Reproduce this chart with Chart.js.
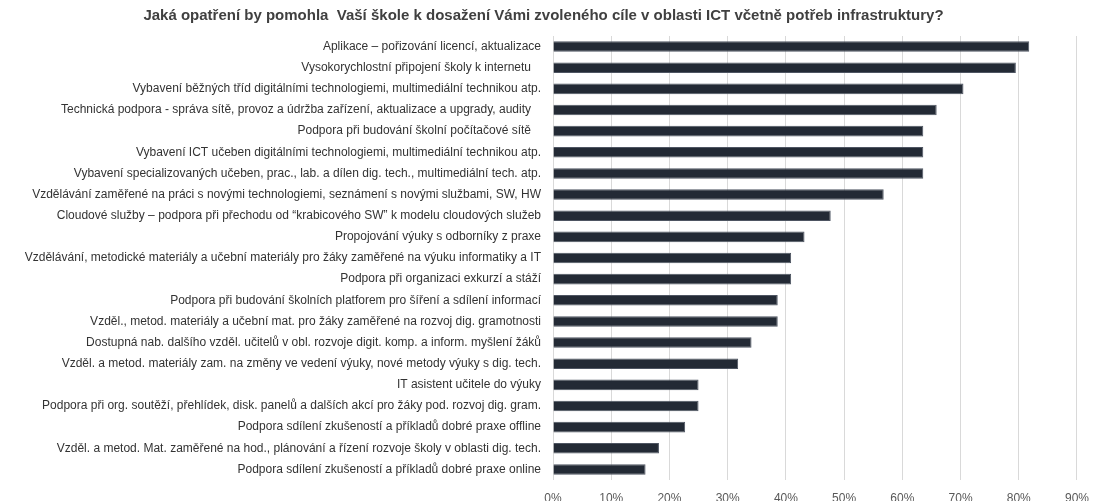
<!DOCTYPE html>
<html>
<head>
<meta charset="utf-8">
<script src="https://cdn.jsdelivr.net/npm/chart.js@4"></script>
<style>
  html, body { margin: 0; padding: 0; background: #fff; }
  #wrap { width: 1100px; height: 501px; }
</style>
</head>
<body>
<div id="wrap"><canvas id="ictChart" width="1100" height="501"></canvas></div>
<script>
// Survey answers, share of schools (n = 44)
const chartTitle = "Jaká opatření by pomohla  Vaší škole k dosažení Vámi zvoleného cíle v oblasti ICT včetně potřeb infrastruktury?";

const measures = [
  "Aplikace – pořizování licencí, aktualizace",
  "Vysokorychlostní připojení školy k internetu   ",
  "Vybavení běžných tříd digitálními technologiemi, multimediální technikou atp.",
  "Technická podpora - správa sítě, provoz a údržba zařízení, aktualizace a upgrady, audity   ",
  "Podpora při budování školní počítačové sítě   ",
  "Vybavení ICT učeben digitálními technologiemi, multimediální technikou atp.",
  "Vybavení specializovaných učeben, prac., lab. a dílen dig. tech., multimediální tech. atp.",
  "Vzdělávání zaměřené na práci s novými technologiemi, seznámení s novými službami, SW, HW",
  "Cloudové služby – podpora při přechodu od “krabicového SW” k modelu cloudových služeb",
  "Propojování výuky s odborníky z praxe",
  "Vzdělávání, metodické materiály a učební materiály pro žáky zaměřené na výuku informatiky a IT",
  "Podpora při organizaci exkurzí a stáží",
  "Podpora při budování školních platforem pro šíření a sdílení informací",
  "Vzděl., metod. materiály a učební mat. pro žáky zaměřené na rozvoj dig. gramotnosti",
  "Dostupná nab. dalšího vzděl. učitelů v obl. rozvoje digit. komp. a inform. myšlení žáků",
  "Vzděl. a metod. materiály zam. na změny ve vedení výuky, nové metody výuky s dig. tech.",
  "IT asistent učitele do výuky",
  "Podpora při org. soutěží, přehlídek, disk. panelů a dalších akcí pro žáky pod. rozvoj dig. gram.",
  "Podpora sdílení zkušeností a příkladů dobré praxe offline",
  "Vzděl. a metod. Mat. zaměřené na hod., plánování a řízení rozvoje školy v oblasti dig. tech.",
  "Podpora sdílení zkušeností a příkladů dobré praxe online"
];

const shares = [
  0.818, 0.795, 0.705, 0.659, 0.636, 0.636, 0.636, 0.568, 0.477, 0.432, 0.409,
  0.409, 0.386, 0.386, 0.341, 0.318, 0.250, 0.250, 0.227, 0.182, 0.159
];

const axisTicks = [0, 0.1, 0.2, 0.3, 0.4, 0.5, 0.6, 0.7, 0.8, 0.9];

const labelFont = "'Liberation Sans', Arial, sans-serif";

const ctx = document.getElementById("ictChart").getContext("2d");

new Chart(ctx, {
  type: "bar",
  data: {
    labels: measures,
    datasets: [{
      data: shares,
      backgroundColor: "#232a35",
      borderColor: "#4e5562",
      borderWidth: 1,
      barPercentage: 0.5,
      categoryPercentage: 1
    }]
  },
  options: {
    indexAxis: "y",
    responsive: false,
    animation: false,
    layout: { padding: { left: 0, right: 13, top: 0, bottom: 0 } },
    plugins: {
      legend: { display: false },
      tooltip: { enabled: false },
      title: {
        display: true,
        text: chartTitle,
        color: "#404040",
        font: { family: labelFont, size: 15, weight: "bold" },
        padding: { top: 6.5, bottom: 11.5 }
      }
    },
    scales: {
      x: {
        min: 0,
        max: 0.9,
        afterBuildTicks: function (scale) {
          scale.ticks = axisTicks.map(v => ({ value: v }));
        },
        afterFit: function (scale) { scale.height = 21; },
        grid: { color: "#d9d9d9", lineWidth: 1, drawTicks: false },
        border: { display: false },
        ticks: {
          padding: 11,
          color: "#595959",
          font: { family: labelFont, size: 12 },
          callback: v => Math.round(v * 100) + "%"
        }
      },
      y: {
        afterFit: function (scale) {
          // fixed label column, labels end 12px left of the bars
          scale.width = 553;
          scale.paddingTop = 0;
          scale.paddingBottom = 0;
        },
        grid: { display: false, drawTicks: false },
        border: { display: false },
        ticks: {
          padding: 12,
          autoSkip: false,
          color: "#333333",
          font: { family: labelFont, size: 12 }
        }
      }
    }
  }
});
</script>
</body>
</html>
